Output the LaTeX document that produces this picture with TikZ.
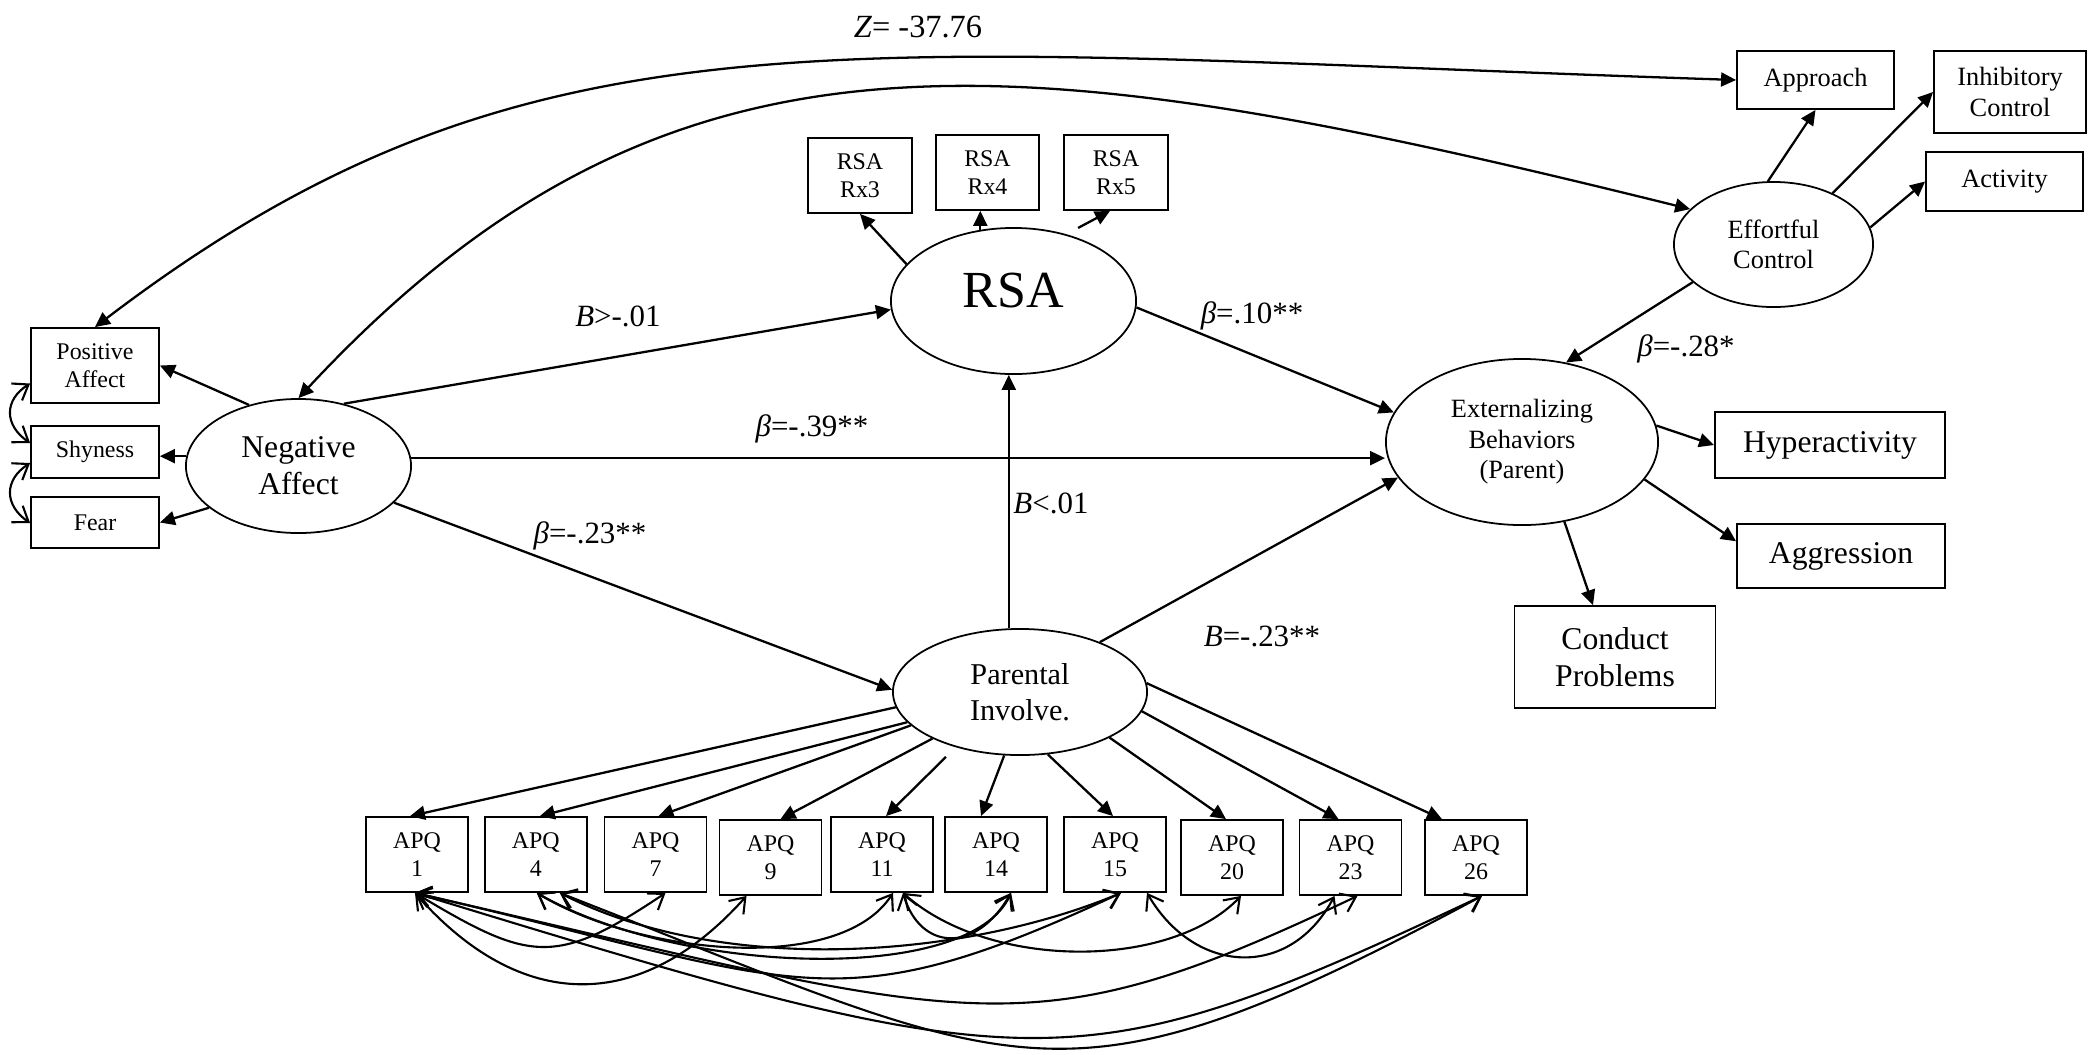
\documentclass[tikz,border=0pt]{standalone}
\usepackage{fontspec}
\setmainfont{Liberation Serif}
\usetikzlibrary{arrows.meta,shapes.geometric,calc}
\begin{document}
\begin{tikzpicture}[x=0.01cm,y=-0.01cm,
  box/.style={draw,line width=0.5pt,inner sep=0pt,align=center},
  lat/.style={draw,ellipse,line width=0.5pt,inner sep=0pt,align=center},
  fs/.style={font=\fontsize{6.8}{7.8}\selectfont},
  fm/.style={font=\fontsize{7.5}{8.7}\selectfont},
  fl/.style={font=\fontsize{9}{10.5}\selectfont},
  apq/.style={box,fs,minimum width=1.02cm,minimum height=0.75cm},
  lab/.style={font=\fontsize{8.8}{10}\selectfont,inner sep=0pt},
  arr/.style={-{Triangle[length=1.5mm,width=1.4mm]},line width=0.65pt},
  dbl/.style={{Triangle[length=1.5mm,width=1.4mm]}-{Triangle[length=1.5mm,width=1.4mm]},line width=0.65pt},
  cov/.style={{Straight Barb[length=1.4mm,width=2mm]}-{Straight Barb[length=1.4mm,width=2mm]},line width=0.6pt}]
\path[use as bounding box,fill=white] (0,0) rectangle (2088,1054);

% temperament
\node[box,fm,minimum width=1.57cm,minimum height=0.58cm] (app) at (1815.5,80) {Approach};
\node[box,fm,minimum width=1.52cm,minimum height=0.82cm] (inh) at (2010,92) {Inhibitory\\Control};
\node[box,fm,minimum width=1.57cm,minimum height=0.59cm] (act) at (2004.5,181.5) {Activity};
\node[lat,fm,minimum width=1.99cm,minimum height=1.25cm] (ec) at (1773.5,244.5) {Effortful\\Control};
\node[box,fs,minimum width=1.28cm,minimum height=0.75cm] (pa) at (95,365.5) {Positive\\Affect};
\node[box,fs,minimum width=1.28cm,minimum height=0.52cm] (shy) at (95,452) {Shyness};
\node[box,fs,minimum width=1.28cm,minimum height=0.51cm] (fear) at (95,522.5) {Fear};
\node[lat,fl,minimum width=2.25cm,minimum height=1.34cm] (na) at (298.5,466) {Negative\\Affect};

% RSA
\node[box,fs,minimum width=1.04cm,minimum height=0.75cm] (rx3) at (860,175.5) {RSA\\Rx3};
\node[box,fs,minimum width=1.03cm,minimum height=0.75cm] (rx4) at (987.5,172.5) {RSA\\Rx4};
\node[box,fs,minimum width=1.04cm,minimum height=0.75cm] (rx5) at (1116,172.5) {RSA\\Rx5};
\node[lat,font=\fontsize{14.8}{17}\selectfont,minimum width=2.45cm,minimum height=1.46cm,text depth=0.22cm] (rsa) at (1013.5,301) {RSA};

% outcome
\node[lat,fm,minimum width=2.72cm,minimum height=1.66cm] (ext) at (1522,442) {Externalizing\\Behaviors\\(Parent)};
\node[box,fl,minimum width=2.30cm,minimum height=0.66cm] (hyp) at (1830,445) {Hyperactivity};
\node[box,fl,minimum width=2.08cm,minimum height=0.64cm] (agg) at (1841,556) {Aggression};
\node[box,fl,minimum width=2.01cm,minimum height=1.02cm] (cp) at (1615,657) {Conduct\\Problems};

% parenting
\node[lat,font=\fontsize{8.6}{10.4}\selectfont,minimum width=2.54cm,minimum height=1.26cm] (par) at (1020,692) {Parental\\Involve.};
\node[apq] (apq1) at (417,854.5) {APQ\\1};
\node[apq] (apq4) at (535.8,854.5) {APQ\\4};
\node[apq] (apq7) at (655.5,854.5) {APQ\\7};
\node[apq] (apq9) at (770.5,857.5) {APQ\\9};
\node[apq] (apq11) at (882,854.5) {APQ\\11};
\node[apq] (apq14) at (996,854.5) {APQ\\14};
\node[apq] (apq15) at (1115,854.5) {APQ\\15};
\node[apq] (apq20) at (1232,857.5) {APQ\\20};
\node[apq] (apq23) at (1350.5,857.5) {APQ\\23};
\node[apq] (apq26) at (1476,857.5) {APQ\\26};

% coefficients
\node[lab,font=\fontsize{9.2}{11}\selectfont] (zval) at (918,27) {\textit{Z}= -37.76};
\node[lab] (bnr) at (618,316) {\textit{B}>-.01};
\node[lab] (brx) at (1252,316) {\textit{β}=.10**};
\node[lab] (bec) at (1686,349) {\textit{β}=-.28*};
\node[lab] (bnx) at (812,429) {\textit{β}=-.39**};
\node[lab] (bpr) at (1051,503) {\textit{B}<.01};
\node[lab] (bnp) at (590,536) {\textit{β}=-.23**};
\node[lab] (bpx) at (1262,636) {\textit{B}=-.23**};

% top correlations
\draw[dbl] (pa.north) .. controls (530,-4) and (837,50) .. (app.west);
\draw[dbl] (na.north) .. controls (671,-2) and (1015,42) .. (ec.157);

% negative affect
\draw[cov] ($(pa.west)+(0,18)$) .. controls (4,400) and (4,425) .. ($(shy.west)+(0,-9)$);
\draw[cov] ($(shy.west)+(0,11)$) .. controls (4,480) and (4,505) .. ($(fear.west)+(0,0.5)$);
\draw[arr] (na.129) -- (pa.east);
\draw[arr] (na.175) -- (na.175 -| shy.east);
\draw[arr] (na.205) -- (fear.east);
\draw[arr] (na.54) -- (rsa.184);
\draw[arr] (na.4) -- (na.4 -| ext.west);
\draw[arr] (na.339) -- (par.179);

% RSA
\draw[arr] (rsa.161) -- (rx3.south);
\draw[arr] (rsa.115) -- (rsa.115 |- rx4.south);
\draw[arr] ($(rsa.48)+(6,-8)$) -- ($(rx5.south)+(-6,0)$);
\draw[arr] (rsa.357) -- (ext.167);

% effortful control
\draw[arr] (ec.95) -- (app.south);
\draw[arr] (ec.41) -- (inh.west);
\draw[arr] (ec.10) -- (act.west);
\draw[arr] (ec.205) -- (ext.61);

% externalizing
\draw[arr] (ext.7) -- (hyp.west);
\draw[arr] (ext.343) -- (agg.172);
\draw[arr] (ext.298) -- ($(cp.north)+(-22,0)$);

% parental involvement
\draw[arr] (par.100) -- (par.100 |- rsa.south);
\draw[arr] (par.32) -- (ext.196);
\draw[arr] (par.187) -- ($(apq1.north)+(-7,0)$);
\draw[arr] (par.195) -- ($(apq4.north)+(4,0)$);
\draw[arr] (par.197) -- ($(apq7.north)+(3,0)$);
\draw[arr] (par.208) -- ($(apq9.north)+(10,0)$);
\draw[arr] ($(par.222)+(-12,9)$) -- ($(apq11.north)+(4,0)$);
\draw[arr] (par.256) -- ($(apq14.north)+(-15,0)$);
\draw[arr] (par.294) -- ($(apq15.north)+(-2,0)$);
\draw[arr] (par.333) -- ($(apq20.north)+(-6,0)$);
\draw[arr] (par.351) -- ($(apq23.north)+(-12,0)$);
\draw[arr] (par.4) -- ($(apq26.north)+(-34,0)$);

% item residuals
\draw[cov] ($(apq1.south)+(-2,0)$) .. controls (530,962) and (555,967) .. ($(apq7.south)+(10,0)$);
\draw[cov] ($(apq1.south)+(-2,0)$) .. controls (520,1012) and (640,1015) .. ($(apq9.south)+(-24,0)$);
\draw[cov] ($(apq4.south)+(1,0)$) .. controls (640,955) and (840,975) .. ($(apq11.south)+(11,0)$);
\draw[cov] ($(apq4.south)+(1,0)$) .. controls (680,975) and (970,985) .. ($(apq14.south)+(15,0)$);
\draw[cov] ($(apq11.south)+(21,0)$) .. controls (920,950) and (975,955) .. ($(apq14.south)+(15,0)$);
\draw[cov] ($(apq11.south)+(21,0)$) .. controls (990,970) and (1170,970) .. ($(apq20.south)+(9,0)$);
\draw[cov] ($(apq15.south)+(32,0)$) .. controls (1195,975) and (1290,980) .. ($(apq23.south)+(-16,0)$);
\draw[cov] ($(apq1.south)+(-2,0)$) .. controls (805,983) and (831,1028) .. ($(apq15.south)+(6,0)$);
\draw[cov] ($(apq4.south)+(24,0)$) .. controls (720,975) and (960,960) .. ($(apq15.south)+(6,0)$);
\draw[cov] ($(apq1.south)+(-2,0)$) .. controls (980,1023) and (1023,1055) .. ($(apq23.south)+(7,0)$);
\draw[cov] ($(apq1.south)+(-2,0)$) .. controls (1036,1083) and (1074,1088) .. ($(apq26.south)+(6,0)$);
\draw[cov] ($(apq4.south)+(24,0)$) .. controls (1027,1075) and (1058,1123) .. ($(apq26.south)+(6,0)$);
\end{tikzpicture}
\end{document}
